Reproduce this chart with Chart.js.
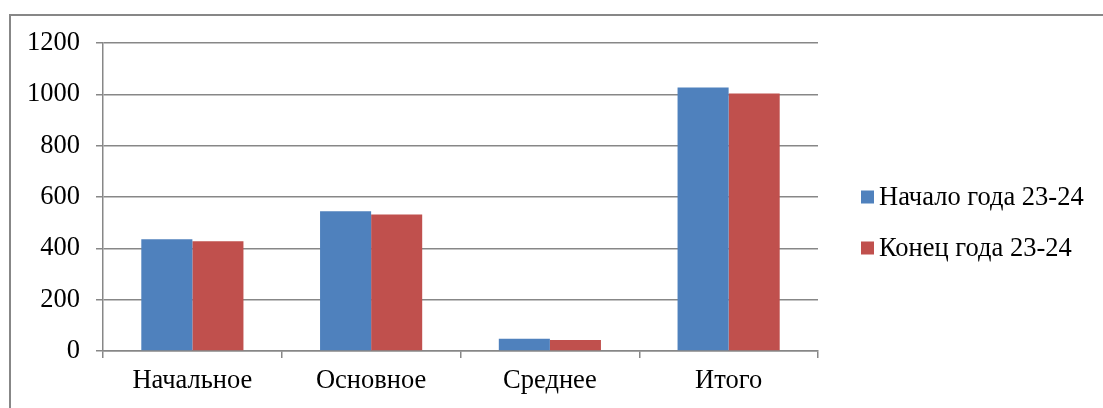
<!DOCTYPE html>
<html>
<head>
<meta charset="utf-8">
<script src="https://cdn.jsdelivr.net/npm/chart.js@4"></script>
<style>
  html, body { margin: 0; padding: 0; background: #fff; }
  .wrap { width: 1103px; height: 408px; position: relative; }
</style>
</head>
<body>
<div class="wrap"><canvas id="myChart" width="1103" height="408"></canvas></div>
<script>
// data
const categories = ['Начальное', 'Основное', 'Среднее', 'Итого'];
const seriesNames = ['Начало года 23-24', 'Конец года 23-24'];
const startValues = [435, 544, 48, 1027];
const endValues = [428, 532, 43, 1003];
const yTicks = [0, 200, 400, 600, 800, 1000, 1200];

const colors = ['#4F81BD', '#C0504D'];
const gray = '#878787';
const font = { family: "'Liberation Serif', 'Times New Roman', serif", size: 26.5 };

// рамка и легенда справа
const frameAndLegend = {
  id: 'frameAndLegend',
  beforeDraw(chart) {
    const ctx = chart.ctx;
    ctx.save();
    ctx.strokeStyle = gray;
    ctx.lineWidth = 2;
    ctx.strokeRect(10, 15, 1200, 500);
    ctx.restore();
  },
  afterDraw(chart) {
    const ctx = chart.ctx;
    ctx.save();
    ctx.font = font.size + 'px ' + font.family;
    ctx.textBaseline = 'middle';
    ctx.textAlign = 'left';
    chart.data.datasets.forEach((ds, i) => {
      let cy = 197 + i * 51;
      ctx.fillStyle = ds.backgroundColor;
      ctx.fillRect(861, cy - 6.5, 13, 13);
      ctx.fillStyle = '#000';
      ctx.fillText(ds.label, 879, cy + 1);
    });
    ctx.restore();
  }
};

const ctx = document.getElementById('myChart');
new Chart(ctx, {
  type: 'bar',
  data: {
    labels: categories,
    datasets: [{
      label: seriesNames[0],
      data: startValues,
      backgroundColor: colors[0],
      categoryPercentage: 1 / 1.75,
      barPercentage: 1,
    },
    {
      label: seriesNames[1],
      data: endValues,
      backgroundColor: colors[1],
      categoryPercentage: 1 / 1.75,
      barPercentage: 1,
    }]
  },
  options: {
    responsive: false,
    animation: false,
    layout: {
      padding: { left: 10, top: 43, right: 285, bottom: 0 }
    },
    scales: {
      x: {
        grid: {
          drawOnChartArea: false,
          drawTicks: true,
          tickLength: 7,
          color: gray,
          lineWidth: 1.5,
        },
        border: { color: gray, width: 1.5 },
        ticks: {
          color: '#000',
          padding: 7,
          font: font,
          maxRotation: 0,
        },
        afterFit(scale) { scale.height = 57; }
      },
      y: {
        min: 0,
        max: 1200,
        afterBuildTicks(scale) { scale.ticks = yTicks.map(v => ({ value: v })); },
        grid: {
          color: gray,
          lineWidth: 1.5,
          tickLength: 7,
        },
        border: { color: gray, width: 1.5 },
        ticks: {
          color: '#000',
          padding: 16,
          font: font,
          callback: v => String(v),
        },
        afterFit(scale) { scale.width = 93; }
      }
    },
    plugins: {
      legend: { display: false },
      tooltip: { enabled: false }
    }
  },
  plugins: [frameAndLegend]
});
</script>
</body>
</html>
